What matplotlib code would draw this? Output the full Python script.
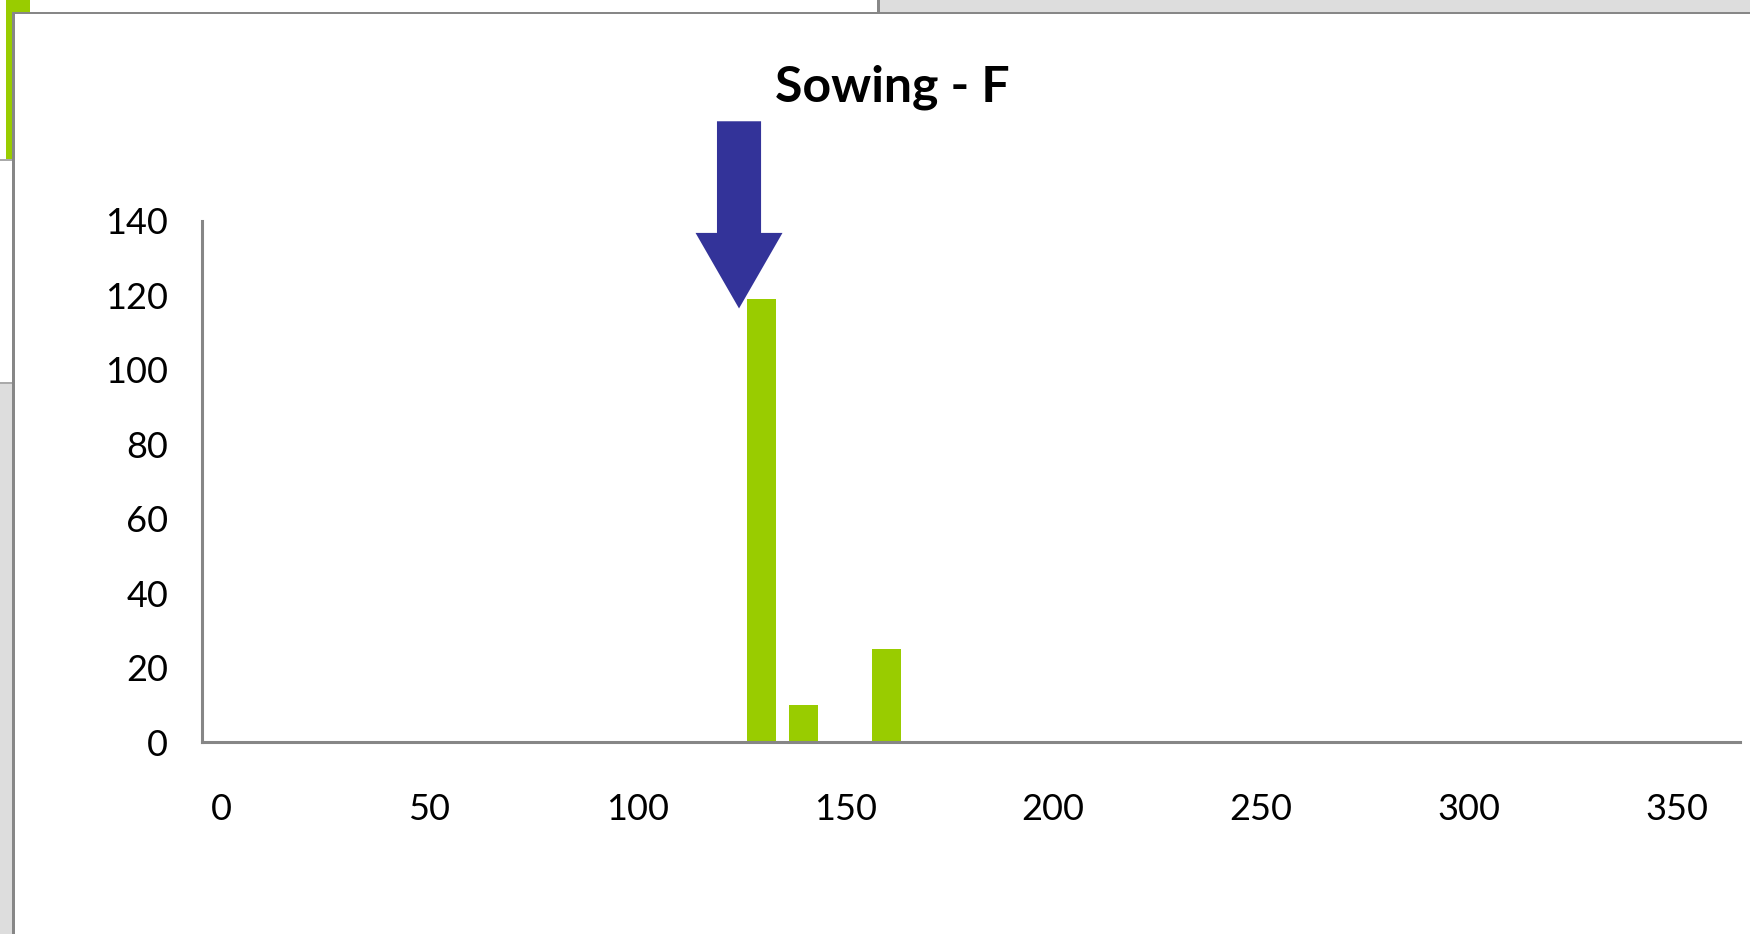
import numpy as np
import matplotlib
matplotlib.use('Agg')
import matplotlib.pyplot as plt
from matplotlib.patches import Rectangle, FancyArrow

# data
days = [130, 140, 160]
counts = [119, 10, 25]
x_ticks = [0, 50, 100, 150, 200, 250, 300, 350]
y_ticks = [0, 20, 40, 60, 80, 100, 120, 140]
title = 'Sowing - F'

bar_color = '#99CC00'
arrow_color = '#333399'
axis_color = '#868686'

W, H = 1750, 934
plt.rcParams['font.family'] = ['Lato', 'DejaVu Sans']

fig = plt.figure(figsize=(W / 100, H / 100), dpi=100)
fig.patch.set_facecolor('white')


def px_rect(x0, y0, x1, y1, color):
    # rectangle in screen pixels (y from top) -> figure fraction
    fig.add_artist(Rectangle((x0 / W, 1 - y1 / H), (x1 - x0) / W, (y1 - y0) / H,
                             transform=fig.transFigure, facecolor=color,
                             edgecolor='none', zorder=0))


# bits of the neighbouring charts behind this one
px_rect(880, 0, W, 12, '#DDDDDD')
px_rect(877, 0, 880, 12, '#888888')
px_rect(6, 0, 30, 12, bar_color)
px_rect(6, 12, 12, 160, bar_color)
px_rect(0, 159, 12, 161, '#AAAAAA')
px_rect(0, 383, 12, H, '#DDDDDD')
px_rect(0, 382, 12, 384, '#AAAAAA')
# chart area frame
px_rect(12, 12, W, 14, '#878787')
px_rect(12, 12, 15, H, '#878787')

ax = fig.add_axes([201.5 / W, 1 - 742 / H, (1740 - 201.5) / W, (742 - 221) / H])
ax.set_facecolor('none')

ax.bar(days, counts, width=7, color=bar_color, zorder=2)

ax.set_xlim(-4.7, 365.1)
ax.set_ylim(0, 140)
ax.set_xticks(x_ticks)
ax.set_yticks(y_ticks)
ax.tick_params(axis='both', length=0, labelsize=26, colors='black')
ax.tick_params(axis='x', pad=37)
ax.tick_params(axis='y', pad=24)

for side in ['top', 'right']:
    ax.spines[side].set_visible(False)
for side in ['left', 'bottom']:
    ax.spines[side].set_color(axis_color)
    ax.spines[side].set_linewidth(2.2)

# sowing arrow pointing at the first bar
arrow = FancyArrow(124.5, 166.8, 0, -50.3, width=10.6, head_width=20.9,
                   head_length=20.3, length_includes_head=True,
                   facecolor=arrow_color, edgecolor='none', clip_on=False, zorder=3)
ax.add_patch(arrow)

fig.text(892 / W, 1 - 87 / H, title, ha='center', va='center',
         fontsize=36, fontweight='bold')

fig.savefig('out.png', dpi=100)
